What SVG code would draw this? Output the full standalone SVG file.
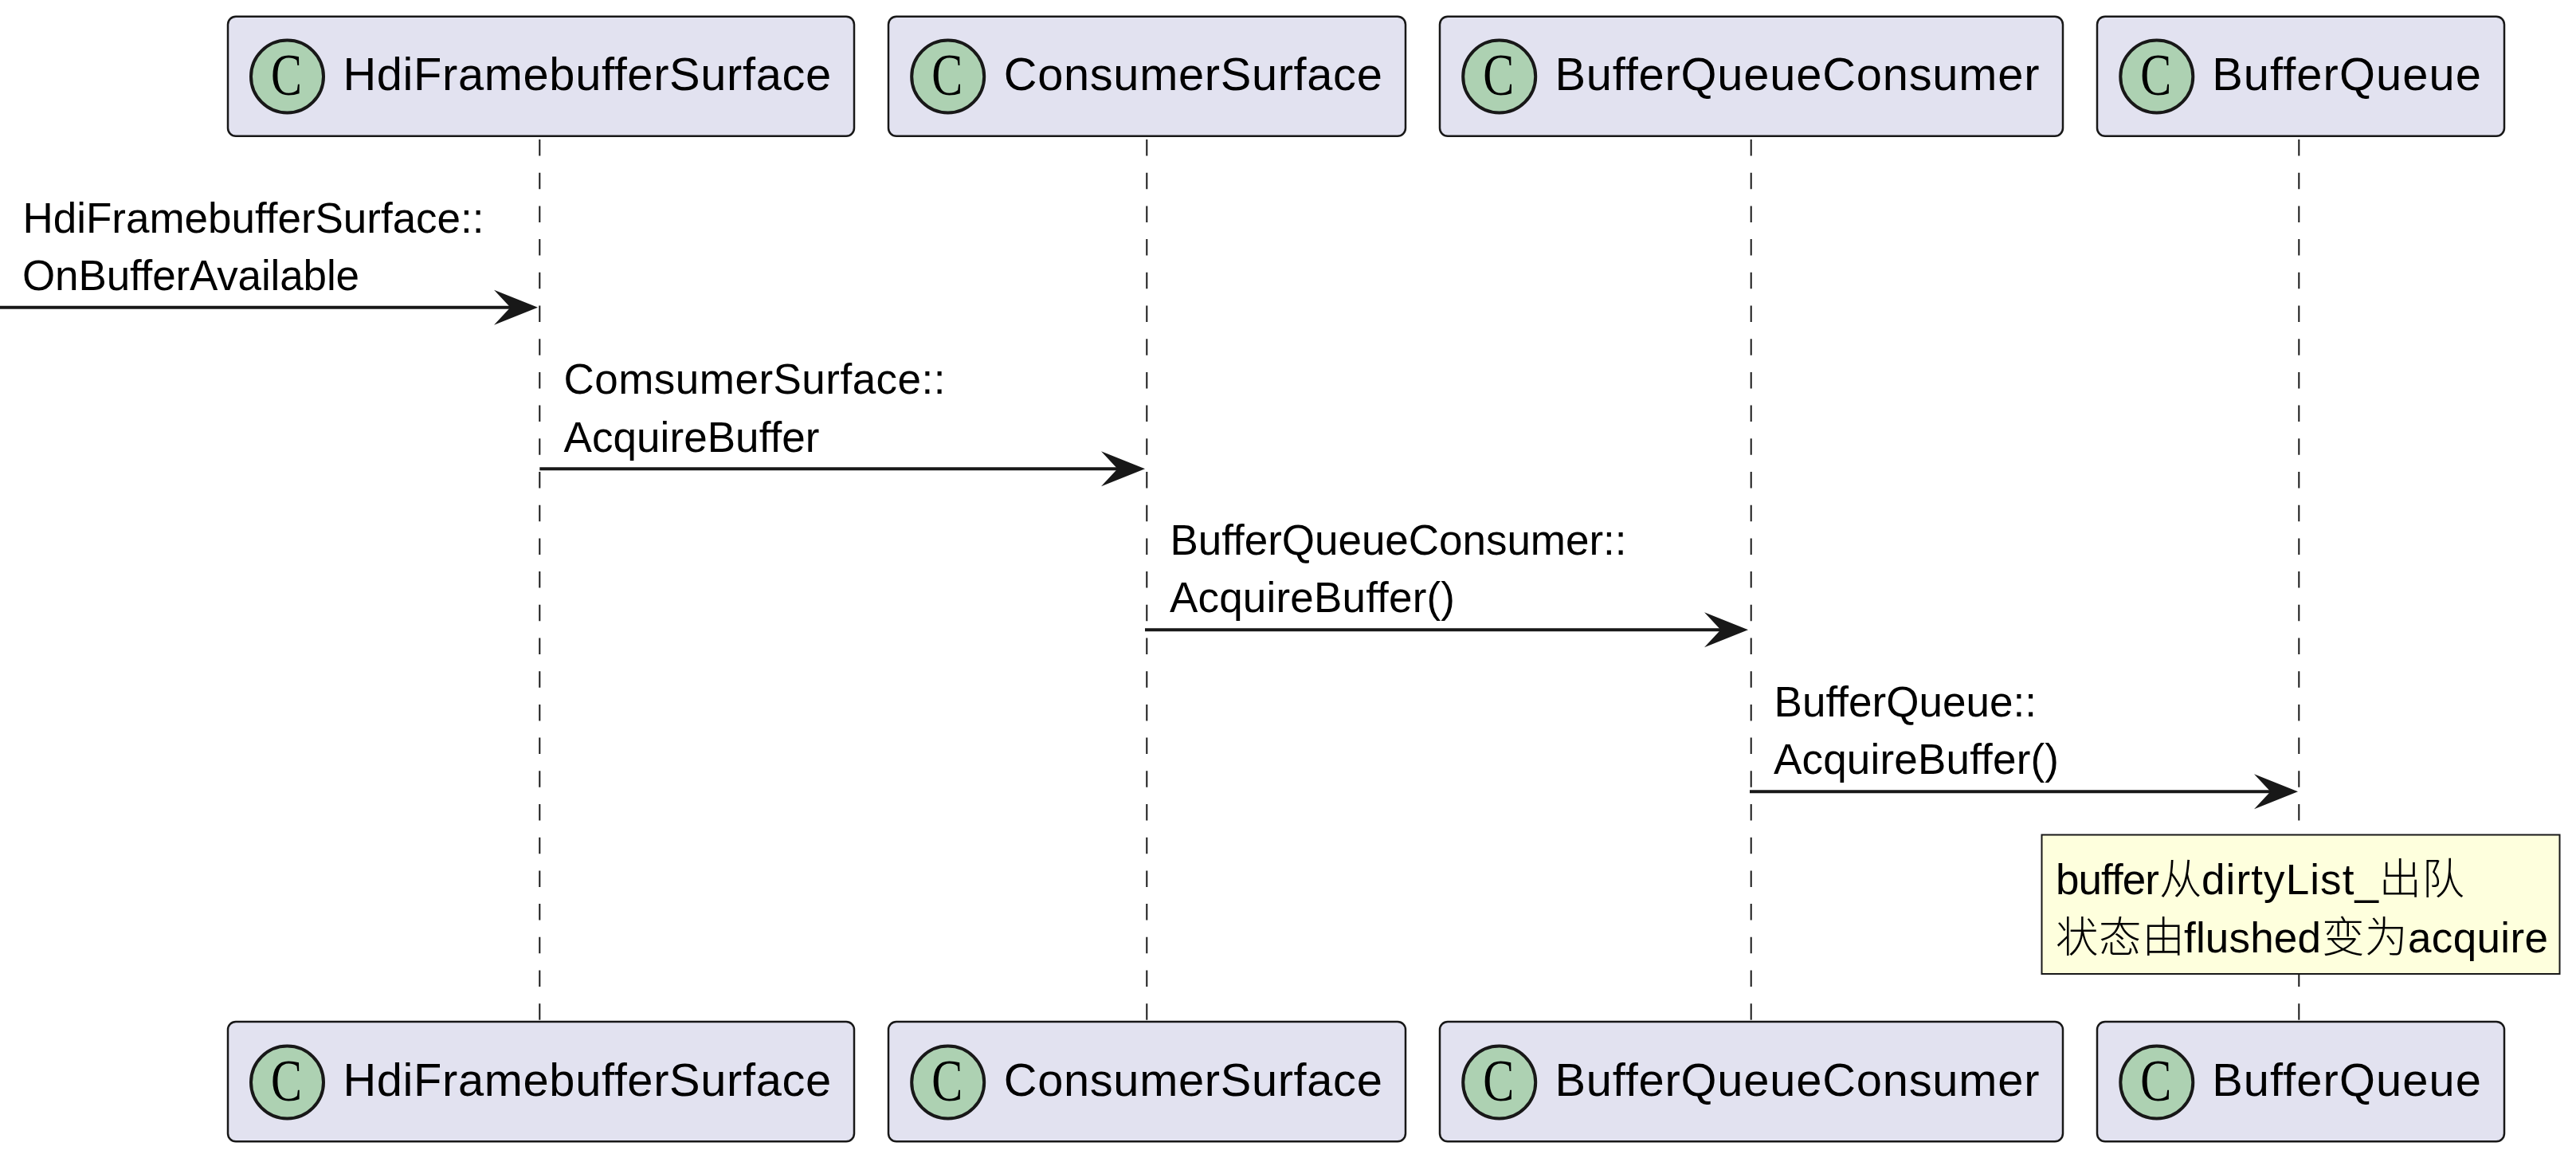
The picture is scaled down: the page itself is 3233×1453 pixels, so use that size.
<svg xmlns="http://www.w3.org/2000/svg" width="3233" height="1453" viewBox="0 0 3233 1453">
<defs>
<style>
text{font-family:"Liberation Sans","Noto Sans CJK SC",sans-serif;fill:#000}
.box{fill:#E2E2F0;stroke:#181818;stroke-width:2.5}
.spot{fill:#ADD1B2;stroke:#181818;stroke-width:4}
.c{font-family:"Liberation Serif",serif;font-size:74px;text-anchor:middle}
.name{font-size:57.8px}
.msg{font-size:53px}
.cjk{font-family:"Noto Sans CJK SC",sans-serif;font-size:53.5px;font-weight:300}
.life{stroke:#181818;stroke-width:2;stroke-dasharray:20.5 21.2;fill:none}
.arrow{stroke:#181818;stroke-width:4;fill:none;marker-end:url(#head)}
.note{fill:#FEFFDD;stroke:#181818;stroke-width:2}
</style>
<marker id="head" markerUnits="userSpaceOnUse" markerWidth="70" markerHeight="60" refX="40" refY="24" orient="auto">
<path d="M5 2 L60 24 L5 46 L25.5 24 Z" fill="#181818"/>
</marker>
</defs>
<rect width="3233" height="1453" fill="#fff"/>
<g id="connectors">
<path class="life" d="M677.3 175V1280"/>
<path class="life" d="M1439.3 175V1280"/>
<path class="life" d="M2197.7 175V1280"/>
<path class="life" d="M2885.3 175V1280"/>
<path class="arrow" d="M0 385.8H655"/>
<path class="arrow" d="M677.3 588.3H1417"/>
<path class="arrow" d="M1437 790.3H2174"/>
<path class="arrow" d="M2196 993.3H2864"/>
<text class="msg" x="28.5" y="291.7" textLength="579">HdiFramebufferSurface::</text>
<text class="msg" x="28" y="364" textLength="423">OnBufferAvailable</text>
<text class="msg" x="707.5" y="493.5" textLength="479">ComsumerSurface::</text>
<text class="msg" x="707.5" y="566.5" textLength="321">AcquireBuffer</text>
<text class="msg" x="1468.5" y="696" textLength="573">BufferQueueConsumer::</text>
<text class="msg" x="1468" y="768.3" textLength="358">AcquireBuffer()</text>
<text class="msg" x="2226.5" y="899.3" textLength="329.5">BufferQueue::</text>
<text class="msg" x="2226" y="971.3" textLength="358">AcquireBuffer()</text>
</g>
<g id="p1-top"><rect class="box" x="286" y="20.7" width="786" height="150" rx="10"/><circle class="spot" cx="360.5" cy="96" r="45.5"/><text class="c" x="359.5" y="119" textLength="39" lengthAdjust="spacingAndGlyphs">C</text><text class="name" x="430.4" y="112.7" textLength="612.8">HdiFramebufferSurface</text></g>
<g id="p2-top"><rect class="box" x="1115" y="20.7" width="649" height="150" rx="10"/><circle class="spot" cx="1189.7" cy="96" r="45.5"/><text class="c" x="1188.7" y="119" textLength="39" lengthAdjust="spacingAndGlyphs">C</text><text class="name" x="1259.8" y="112.7" textLength="475">ConsumerSurface</text></g>
<g id="p3-top"><rect class="box" x="1807" y="20.7" width="782" height="150" rx="10"/><circle class="spot" cx="1881.7" cy="96" r="45.5"/><text class="c" x="1880.7" y="119" textLength="39" lengthAdjust="spacingAndGlyphs">C</text><text class="name" x="1951.5" y="112.7" textLength="608">BufferQueueConsumer</text></g>
<g id="p4-top"><rect class="box" x="2632" y="20.7" width="511" height="150" rx="10"/><circle class="spot" cx="2706.8" cy="96" r="45.5"/><text class="c" x="2705.8" y="119" textLength="39" lengthAdjust="spacingAndGlyphs">C</text><text class="name" x="2776.2" y="112.7" textLength="337.7">BufferQueue</text></g>
<g id="note"><rect class="note" x="2562.5" y="1047.5" width="650" height="174.5"/>
<text class="msg" y="1121.7"><tspan x="2580" textLength="130">buffer</tspan><tspan class="cjk" x="2710">从</tspan><tspan x="2763" textLength="222">dirtyList_</tspan><tspan class="cjk" x="2985.5">出</tspan><tspan class="cjk" x="3039.5">队</tspan></text>
<text class="msg" y="1195"><tspan class="cjk" x="2580">状</tspan><tspan class="cjk" x="2634">态</tspan><tspan class="cjk" x="2688.5">由</tspan><tspan x="2741" textLength="172">flushed</tspan><tspan class="cjk" x="2914">变</tspan><tspan class="cjk" x="2968">为</tspan><tspan x="3022" textLength="176">acquire</tspan></text></g>
<g id="p1-bottom"><rect class="box" x="286" y="1282" width="786" height="150.3" rx="10"/><circle class="spot" cx="360.5" cy="1358" r="45.5"/><text class="c" x="359.5" y="1381" textLength="39" lengthAdjust="spacingAndGlyphs">C</text><text class="name" x="430.4" y="1375" textLength="612.8">HdiFramebufferSurface</text></g>
<g id="p2-bottom"><rect class="box" x="1115" y="1282" width="649" height="150.3" rx="10"/><circle class="spot" cx="1189.7" cy="1358" r="45.5"/><text class="c" x="1188.7" y="1381" textLength="39" lengthAdjust="spacingAndGlyphs">C</text><text class="name" x="1259.8" y="1375" textLength="475">ConsumerSurface</text></g>
<g id="p3-bottom"><rect class="box" x="1807" y="1282" width="782" height="150.3" rx="10"/><circle class="spot" cx="1881.7" cy="1358" r="45.5"/><text class="c" x="1880.7" y="1381" textLength="39" lengthAdjust="spacingAndGlyphs">C</text><text class="name" x="1951.5" y="1375" textLength="608">BufferQueueConsumer</text></g>
<g id="p4-bottom"><rect class="box" x="2632" y="1282" width="511" height="150.3" rx="10"/><circle class="spot" cx="2706.8" cy="1358" r="45.5"/><text class="c" x="2705.8" y="1381" textLength="39" lengthAdjust="spacingAndGlyphs">C</text><text class="name" x="2776.2" y="1375" textLength="337.7">BufferQueue</text></g>
</svg>
